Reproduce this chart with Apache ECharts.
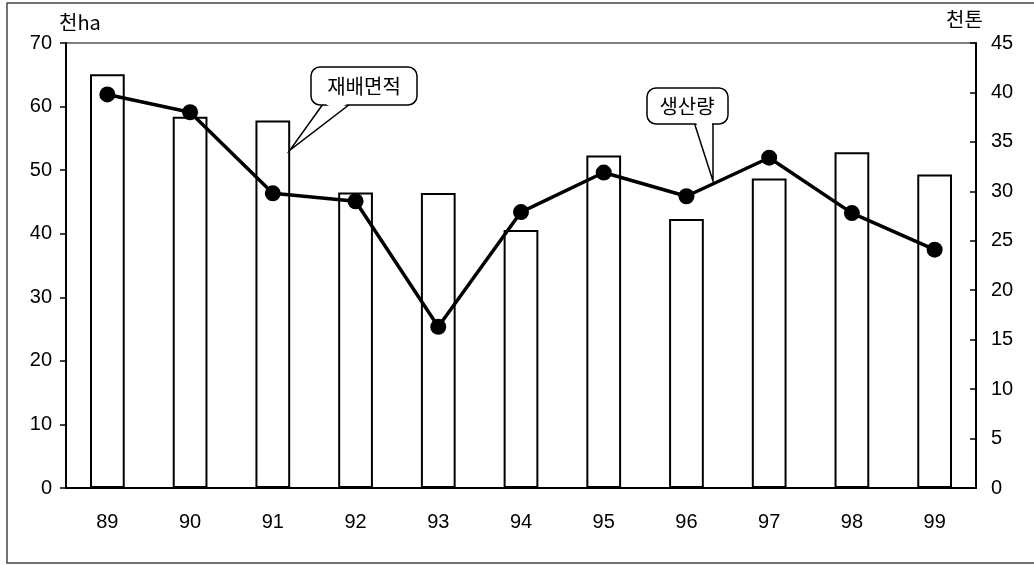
<!DOCTYPE html>
<html>
<head>
<meta charset="utf-8">
<script src="https://cdn.jsdelivr.net/npm/echarts@6/dist/echarts.min.js"></script>
<style>
  html, body { margin: 0; padding: 0; background: #fff; }
  #chart { width: 1034px; height: 565px; }
</style>
</head>
<body>
<div id="chart"></div>
<script>
// 연도 (89 ~ 99)
var years = ['89', '90', '91', '92', '93', '94', '95', '96', '97', '98', '99'];
// 재배면적 (천ha) - 막대
var area = [65.1, 58.4, 57.8, 46.5, 46.4, 40.6, 52.3, 42.3, 48.7, 52.8, 49.3];
// 생산량 (천톤) - 꺾은선
var production = [39.8, 38.0, 29.8, 29.0, 16.3, 27.9, 31.9, 29.5, 33.4, 27.8, 24.1];

var numFont = '"Liberation Sans", Arial, sans-serif';
var krFont = '"Noto Sans CJK KR", sans-serif';

var myChart = echarts.init(document.getElementById('chart'));

myChart.setOption({
    animation: false,
    backgroundColor: '#fff',
    grid: {
        left: 66, right: 58, top: 43, bottom: 77,
        show: true,
        borderColor: '#000',
        borderWidth: 1.2
    },
    xAxis: {
        type: 'category',
        data: years,
        boundaryGap: true,
        axisLine: { lineStyle: { color: '#000', width: 2 } },
        axisTick: { inside: true, length: 6, lineStyle: { color: '#000', width: 1.5 } },
        axisLabel: { color: '#000', fontSize: 20, fontFamily: numFont, margin: 24 },
        splitLine: { show: false }
    },
    yAxis: [
        {
            type: 'value',
            min: 0, max: 70, interval: 10,
            axisLine: { show: true, lineStyle: { color: '#000', width: 2 } },
            axisTick: { show: true, inside: false, length: 6, lineStyle: { color: '#000', width: 1.5 } },
            axisLabel: { color: '#000', fontSize: 20, fontFamily: numFont, margin: 14 },
            splitLine: { show: false }
        },
        {
            type: 'value',
            min: 0, max: 45, interval: 5,
            position: 'right',
            axisLine: { show: true, lineStyle: { color: '#000', width: 2 } },
            axisTick: { show: true, inside: true, length: 6, lineStyle: { color: '#000', width: 1.5 } },
            axisLabel: { color: '#000', fontSize: 20, fontFamily: numFont, margin: 15 },
            splitLine: { show: false }
        }
    ],
    series: [
        {
            name: '재배면적',
            type: 'bar',
            yAxisIndex: 0,
            barWidth: '42%',
            itemStyle: { color: '#fff', borderColor: '#000', borderWidth: 2 },
            data: area
        },
        {
            name: '생산량',
            type: 'line',
            yAxisIndex: 1,
            symbol: 'circle',
            symbolSize: 16,
            lineStyle: { color: '#000', width: 3.5 },
            itemStyle: { color: '#000' },
            data: production
        }
    ],
    graphic: [
        // 바깥 테두리 (오른쪽은 잘림)
        { type: 'rect', shape: { x: 7, y: 3, width: 1040, height: 560 },
          style: { fill: 'none', stroke: '#444', lineWidth: 1.5 }, silent: true, z: 0 },
        // 단위
        { type: 'text', left: 59, top: 12,
          style: { text: '천ha', fontSize: 20, fontFamily: krFont, fill: '#000' } },
        { type: 'text', left: 946, top: 9,
          style: { text: '천톤', fontSize: 20, fontFamily: krFont, fill: '#000' } },
        // 말풍선: 재배면적
        { type: 'polygon', shape: { points: [[323, 104], [290, 150], [350, 104]] },
          style: { fill: '#fff', stroke: '#000', lineWidth: 1.5 }, z: 100 },
        { type: 'rect', shape: { x: 311, y: 67, width: 106, height: 38, r: 9 },
          style: { fill: '#fff', stroke: '#000', lineWidth: 1.5 }, z: 101 },
        { type: 'polygon', shape: { points: [[324, 103], [349, 103], [336, 110]] },
          style: { fill: '#fff', stroke: null }, z: 102 },
        { type: 'text', x: 364, y: 86,
          style: { text: '재배면적', fontSize: 20, fontFamily: krFont, fill: '#000',
                   align: 'center', verticalAlign: 'middle' }, z: 103 },
        // 말풍선: 생산량
        { type: 'polygon', shape: { points: [[694, 122], [713, 181], [713, 122]] },
          style: { fill: '#fff', stroke: '#000', lineWidth: 1.5 }, z: 100 },
        { type: 'rect', shape: { x: 647, y: 88, width: 81, height: 36, r: 9 },
          style: { fill: '#fff', stroke: '#000', lineWidth: 1.5 }, z: 101 },
        { type: 'polygon', shape: { points: [[695, 122], [712, 122], [712, 128], [700, 128]] },
          style: { fill: '#fff', stroke: null }, z: 102 },
        { type: 'text', x: 687, y: 106,
          style: { text: '생산량', fontSize: 20, fontFamily: krFont, fill: '#000',
                   align: 'center', verticalAlign: 'middle' }, z: 103 }
    ]
});
</script>
</body>
</html>
